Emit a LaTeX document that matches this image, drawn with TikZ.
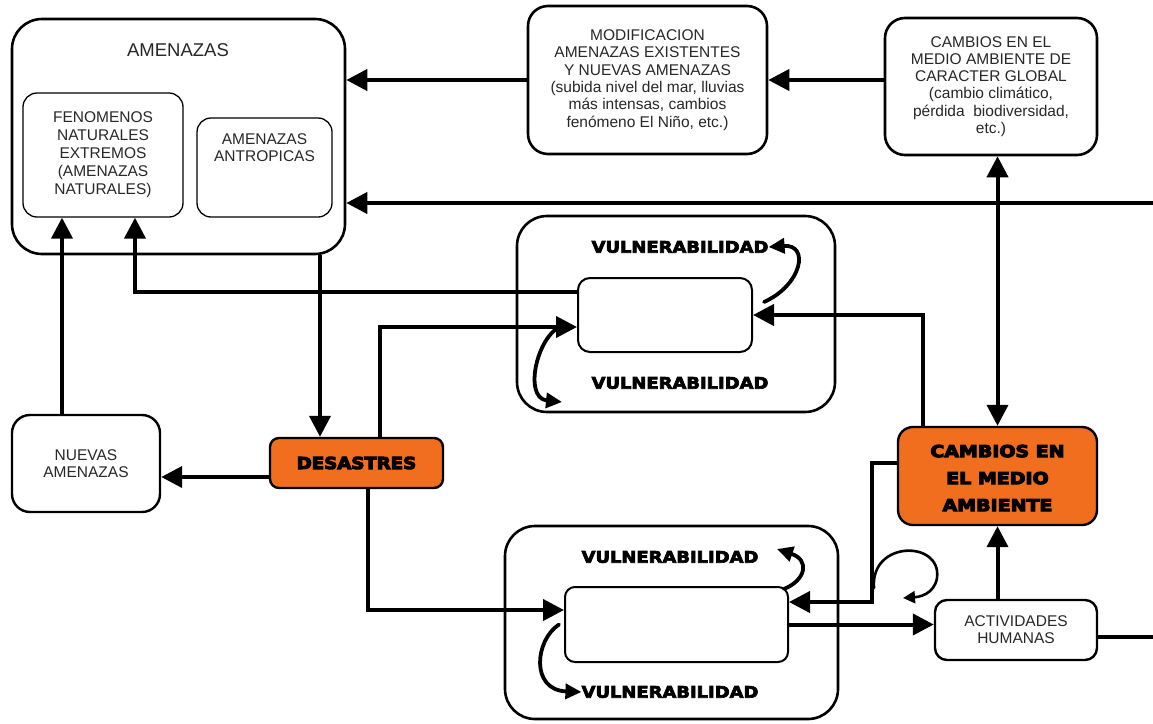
\documentclass[tikz,border=0pt]{standalone}
\usepackage{fontspec}
\setmainfont{Liberation Sans}
\newfontfamily\vfont{DejaVu Sans}[BoldFeatures={FakeBold=4}]
\newfontfamily\ofont{DejaVu Sans}[BoldFeatures={FakeBold=6}]
\usetikzlibrary{arrows.meta}
\definecolor{orng}{RGB}{240,110,30}
\definecolor{ink}{RGB}{40,40,40}
\begin{document}
\begin{tikzpicture}[x=1pt,y=-1pt,
  bx/.style={draw, line width=2.6pt, rounded corners=#1, inner sep=0pt, align=center,
    font=\fontsize{15.5}{17.3}\selectfont, text=ink},
  bx/.default=20pt,
  ibx/.style={draw, line width=1.3pt, rounded corners=#1, inner sep=0pt, align=center,
    font=\fontsize{15.5}{18}\selectfont, text=ink},
  ibx/.default=14pt,
  lbl/.style={inner sep=0pt, align=center, font=\fontsize{15.5}{17.3}\selectfont, text=ink},
  vt/.style={inner sep=0pt, font={\vfont\bfseries\fontsize{16}{18}\selectfont}},
  ot/.style={inner sep=0pt, align=center, font={\ofont\bfseries\fontsize{16.5}{27}\selectfont}},
  arr/.style={line width=4pt, -{Triangle[length=21pt,width=21pt]}},
  ln/.style={line width=4pt},
  dar/.style={line width=4pt, {Triangle[length=21pt,width=21pt]}-{Triangle[length=21pt,width=21pt]}},
  curv/.style={line width=3.8pt, line cap=round, -{Triangle[length=16pt,width=15pt]}},
  curvb/.style={line width=2.6pt, line cap=round, -{Triangle[length=12pt,width=12pt]}}
]
\useasboundingbox (0,0) rectangle (1153,723);
\fill[white] (0,0) rectangle (1153,723);

% ---- nodes
\node[bx=30pt, minimum width=333pt, minimum height=235pt] (amen) at (178.5,136.5) {};
\node[lbl, font=\fontsize{18.5}{20}\selectfont] (amenT) at (178,50) {AMENAZAS};
\node[ibx, minimum width=160pt, minimum height=124pt] (fen) at (103,155)
  {FENOMENOS\\NATURALES\\EXTREMOS\\(AMENAZAS\\NATURALES)};
\node[ibx, minimum width=135pt, minimum height=99pt] (antr) at (264.5,167.5) {};
\node[lbl] (antrT) at (264.5,148) {AMENAZAS\\ANTROPICAS};

\node[bx, minimum width=239pt, minimum height=148pt] (modif) at (647.5,80)
  {MODIFICACION\\AMENAZAS EXISTENTES\\Y NUEVAS AMENAZAS\\(subida nivel del mar, lluvias\\más intensas, cambios\\fenómeno El Niño, etc.)};
\node[bx, minimum width=212pt, minimum height=137pt] (glob) at (991,86.5)
  {CAMBIOS EN EL\\MEDIO AMBIENTE DE\\CARACTER GLOBAL\\(cambio climático,\\pérdida\ \ biodiversidad,\\etc.)};

\node[bx=30pt, minimum width=318pt, minimum height=196pt] (vul1) at (676,314) {};
\node[bx=12pt, line width=2pt, minimum width=174pt, minimum height=74pt] (in1) at (665,315) {};
\node[vt] (v1t) at (680,247) {\scalebox{1.12}[1]{VULNERABILIDAD}};
\node[vt] (v1b) at (680,383) {\scalebox{1.12}[1]{VULNERABILIDAD}};

\node[bx=18pt, line width=2.4pt, minimum width=148pt, minimum height=97pt] (nuevas) at (86,463.5) {NUEVAS\\AMENAZAS};
\node[bx=9pt, line width=2.4pt, fill=orng, minimum width=173pt, minimum height=50pt] (des) at (356.5,463) {};
\node[ot] (desT) at (356.5,463) {\scalebox{1.1}[1]{DESASTRES}};

\node[bx=30pt, minimum width=333pt, minimum height=193pt] (vul2) at (671.5,622.5) {};
\node[bx=10pt, line width=2pt, minimum width=223pt, minimum height=75pt] (in2) at (676.5,624.5) {};
\node[vt] (v2t) at (670,557) {\scalebox{1.12}[1]{VULNERABILIDAD}};
\node[vt] (v2b) at (670,692) {\scalebox{1.12}[1]{VULNERABILIDAD}};

\node[bx=15pt, line width=2.4pt, fill=orng, minimum width=199pt, minimum height=98pt] (cma) at (997.5,476) {};
\node[ot] (cmaT) at (997.5,478) {\scalebox{1.15}[1]{CAMBIOS EN}\\\scalebox{1.15}[1]{EL MEDIO}\\\scalebox{1.15}[1]{AMBIENTE}};
\node[bx=12pt, line width=2.4pt, minimum width=162pt, minimum height=60pt] (act) at (1016,630) {ACTIVIDADES\\HUMANAS};

\coordinate (R1) at (1153,203);
\coordinate (R2) at (1153,637);

% ---- connectors
\draw[arr] (glob.west |- modif.east) -- (modif.east);
\draw[arr] (modif.west) -- (modif.west -| amen.east);
\draw[arr] (R1) -- (R1 -| amen.east);
\draw[dar] (cma.north |- glob.south) -- (cma.north);
\draw[arr] ([xshift=-36.5pt]des.north |- amen.south) -- ([xshift=-36.5pt]des.north);
\draw[arr] ([yshift=-14pt]des.west) -- ([yshift=-14pt]des.west -| nuevas.east);
\draw[arr] ([xshift=-24pt]nuevas.north) -- ([xshift=-24pt]nuevas.north |- fen.south);
\draw[arr] ([yshift=23pt]in1.west) -| ([xshift=32pt]fen.south);
\draw[arr] ([xshift=23.5pt]des.north) |- ([yshift=-12pt]in1.west);
\draw[arr] ([xshift=11.5pt]des.south) |- ([yshift=14.5pt]in2.west);
\draw[arr] ([xshift=-74.5pt]cma.north) |- (in1.east);
\draw[arr] ([yshift=13pt]cma.west) -- ++(-25pt,0) |- ([yshift=22.5pt]in2.east);
\draw[arr] (in2.east) -- (in2.east -| act.west);
\draw[arr] (act.north -| cma.south) -- (cma.south);
\draw[ln] ([yshift=-7pt]act.east) -- (R2);

% ---- hand-drawn curved arrows
\coordinate (c1) at (562,402);
\coordinate (c2) at (777,549);
\coordinate (lp) at (874,588);
\coordinate (lpe) at (903,598);
\draw[curv] ([xshift=11pt,yshift=-25pt]in1.north east) .. controls (802,285) and (810,244) .. (v1t.east);
\draw[curv] ([xshift=-12pt,yshift=-10pt]in1.west) .. controls (538,330) and (522,398) .. (c1);
\draw[curv] ([xshift=-5pt,yshift=-3pt]in2.north east) .. controls (806,580) and (810,560) .. (c2);
\draw[curv] ([xshift=-5pt]in2.west) .. controls (535,640) and (530,690) .. (v2b.west);
\draw[curvb] (lp) .. controls (870,540) and (942,540) .. (937,578) .. controls (934,595) and (918,597) .. (lpe);
\end{tikzpicture}
\end{document}
